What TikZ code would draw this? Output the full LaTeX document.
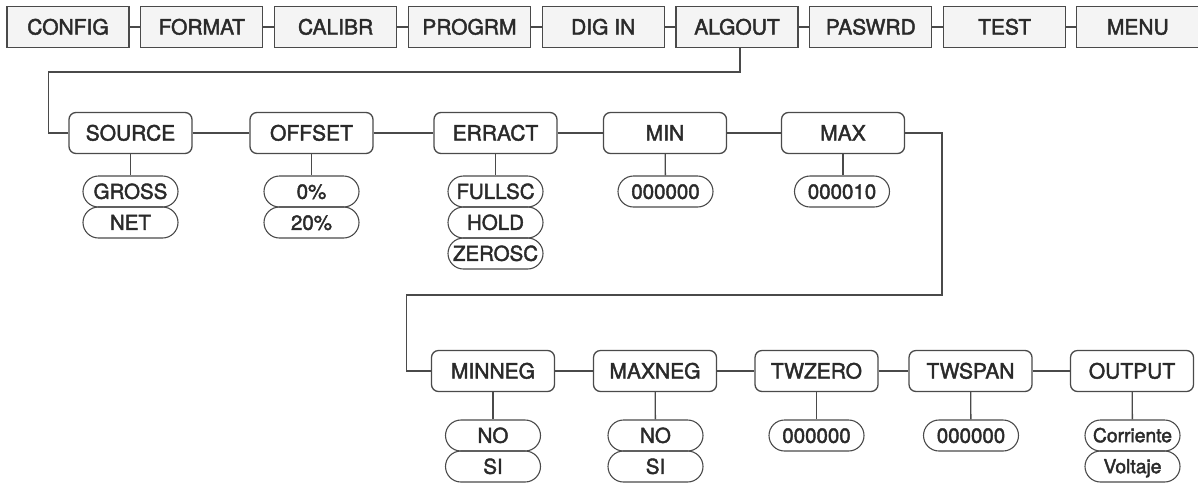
\documentclass[tikz,border=0pt]{standalone}
\usepackage{fontspec}
\setmainfont{TeX Gyre Heros}
\newfontfamily\medfont{TeX Gyre Heros}[FakeBold=2]
\definecolor{ln}{HTML}{4A4A4A}
\definecolor{tx}{HTML}{2A2A2A}
\definecolor{topfill}{HTML}{F4F4F4}
\tikzset{
  menubox/.style={draw=ln, line width=1.3pt, fill=topfill, minimum width=122pt, minimum height=41pt,
    inner sep=0pt, text=tx, text height=15pt, text depth=0pt, font=\medfont\fontsize{21}{21}\selectfont},
  parbox/.style={draw=ln, line width=1.3pt, fill=white, rounded corners=7pt, minimum width=123pt, minimum height=41pt,
    inner sep=0pt, text=tx, text height=15pt, text depth=0pt, font=\medfont\fontsize{21}{21}\selectfont},
  pill/.style={draw=ln, line width=1.1pt, rounded corners=15.5pt, minimum width=95pt, minimum height=31pt,
    inner sep=0pt, text=tx, text height=14.6pt, text depth=0pt, font=\medfont\fontsize{20.5}{20.5}\selectfont},
  smallpill/.style={pill, text height=13.4pt, font=\medfont\fontsize{19.3}{19.3}\selectfont},
  conn/.style={draw=ln, line width=1.3pt}
}
\begin{document}
\begin{tikzpicture}[x=1pt,y=-1pt]
\useasboundingbox (0,0) rectangle (1198,483);
% top menu row
\node[menubox] (config) at (68,27) {CONFIG};
\node[menubox] (format) at (201.8,27) {FORMAT};
\node[menubox] (calibr) at (335.6,27) {CALIBR};
\node[menubox] (progrm) at (469.4,27) {PROGRM};
\node[menubox] (digin)  at (603.2,27) {DIG IN};
\node[menubox] (algout) at (737,27) {ALGOUT};
\node[menubox] (paswrd) at (870.8,27) {PASWRD};
\node[menubox] (test)   at (1004.6,27) {TEST};
\node[menubox] (menu)   at (1137.8,27) {MENU};
\draw[conn] (config) -- (format);
\draw[conn] (format) -- (calibr);
\draw[conn] (calibr) -- (progrm);
\draw[conn] (progrm) -- (digin);
\draw[conn] (digin) -- (algout);
\draw[conn] (algout) -- (paswrd);
\draw[conn] (paswrd) -- (test);
\draw[conn] (test) -- (menu);
% second row
\node[parbox] (source) at (130.5,133) {SOURCE};
\node[parbox] (offset) at (311.5,133) {OFFSET};
\node[parbox] (erract) at (495.5,133) {ERRACT};
\node[parbox] (min)    at (665,133) {MIN};
\node[parbox] (max)    at (843,133) {MAX};
\coordinate (a1) at (740,72);
\coordinate (a2) at (48.5,72);
\draw[conn] ([xshift=3pt]algout.south) -- (a1) -- (a2) |- (source.west);
\draw[conn] (source) -- (offset);
\draw[conn] (offset) -- (erract);
\draw[conn] (erract) -- (min);
\draw[conn] (min) -- (max);
% options row 2
\node[pill] (gross) at (130.5,191.5) {GROSS};
\node[pill] (net)   at (130.5,222.5) {NET};
\node[pill] (p0)    at (311.5,191.5) {0\%};
\node[pill] (p20)   at (311.5,222.5) {20\%};
\node[pill] (fullsc) at (495.5,191.5) {FULLSC};
\node[pill] (hold)   at (495.5,222.5) {HOLD};
\node[pill] (zerosc) at (495.5,253.5) {ZEROSC};
\node[pill] (minv)   at (665.5,191.5) {000000};
\node[pill] (maxv)   at (842,191.5) {000010};
\draw[conn] (source) -- (gross);
\draw[conn] (offset) -- (p0);
\draw[conn] (erract) -- (fullsc);
\draw[conn] (min) -- (minv);
\draw[conn] (max.south) -- (max.south |- maxv.north);
% third row
\node[parbox] (minneg) at (493,371) {MINNEG};
\node[parbox] (maxneg) at (655,371) {MAXNEG};
\node[parbox] (twzero) at (816.5,371) {TWZERO};
\node[parbox] (twspan) at (970.5,371) {TWSPAN};
\node[parbox] (output) at (1132,371) {OUTPUT};
\coordinate (b1) at (942,133);
\coordinate (b2) at (942,295);
\coordinate (b3) at (406.5,295);
\draw[conn] (max.east) -- (b1) -- (b2) -- (b3) |- (minneg.west);
\draw[conn] (minneg) -- (maxneg);
\draw[conn] (maxneg) -- (twzero);
\draw[conn] (twzero) -- (twspan);
\draw[conn] (twspan) -- (output);
% options row 3
\node[pill] (no1) at (493,435.5) {NO};
\node[pill] (si1) at (493,466.5) {SI};
\node[pill] (no2) at (655.5,435.5) {NO};
\node[pill] (si2) at (655.5,466.5) {SI};
\node[pill] (twz) at (816.5,435.5) {000000};
\node[pill] (tws) at (971,435.5) {000000};
\node[smallpill] (corr) at (1132.5,435.5) {Corriente};
\node[smallpill] (volt) at (1132.5,466.5) {Voltaje};
\draw[conn] (minneg) -- (no1);
\draw[conn] (maxneg) -- (no2);
\draw[conn] (twzero) -- (twz);
\draw[conn] (twspan) -- (tws);
\draw[conn] (output) -- (corr);
\end{tikzpicture}
\end{document}
